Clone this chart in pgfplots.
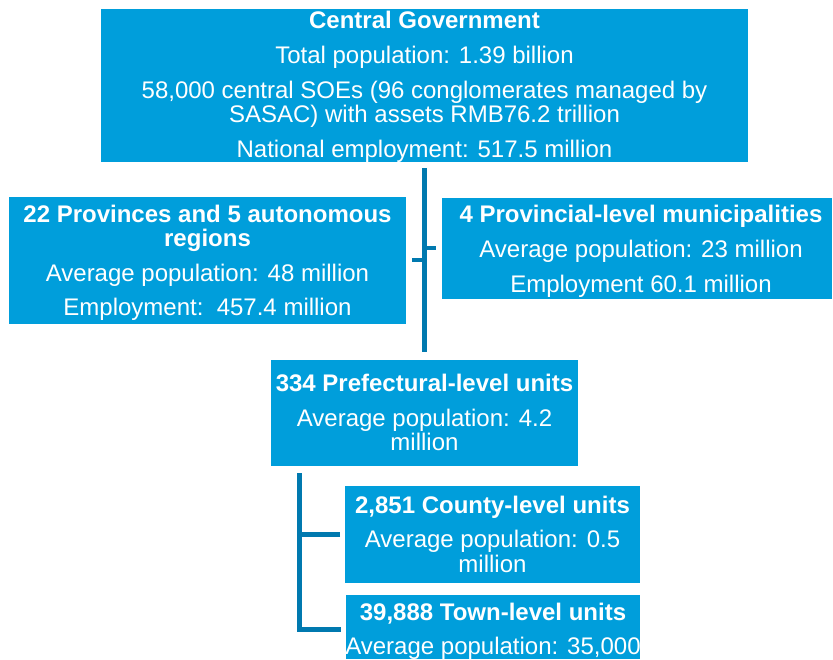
\documentclass[border=0pt]{standalone}
\usepackage{pgfplots}
\pgfplotsset{compat=1.18}
\usepackage{fontspec}
\setmainfont{Liberation Sans}
\definecolor{boxblue}{RGB}{0,158,219}
\definecolor{lineblue}{RGB}{0,121,175}
\tikzset{lbl/.style={text=white, anchor=base, inner sep=0pt, font=\fontsize{24}{26}\selectfont}}
\begin{document}
\begin{tikzpicture}
\begin{axis}[
  width=833pt, height=659pt, scale only axis,
  xmin=0, xmax=833, ymin=0, ymax=659, y dir=reverse,
  hide axis, clip=false,
]
% boxes
\addplot[fill=boxblue, draw=none] coordinates {(101,9) (748,9) (748,162) (101,162)} -- cycle;
\addplot[fill=boxblue, draw=none] coordinates {(9,197) (406,197) (406,324) (9,324)} -- cycle;
\addplot[fill=boxblue, draw=none] coordinates {(442,198) (832,198) (832,299) (442,299)} -- cycle;
\addplot[fill=boxblue, draw=none] coordinates {(271,360) (578,360) (578,466) (271,466)} -- cycle;
\addplot[fill=boxblue, draw=none] coordinates {(345,486) (640,486) (640,583) (345,583)} -- cycle;
\addplot[fill=boxblue, draw=none] coordinates {(346,595) (640,595) (640,659) (346,659)} -- cycle;
% connectors
\addplot[lineblue, line width=5pt] coordinates {(424,168) (424,352)};
\addplot[lineblue, line width=4pt] coordinates {(412,260) (424,260)};
\addplot[lineblue, line width=4pt] coordinates {(424,248) (436,248)};
\addplot[lineblue, line width=5pt, line join=miter] coordinates {(340,534) (299,534)};
\addplot[lineblue, line width=5pt, line join=miter] coordinates {(299,473) (299,629) (341,629)};
% texts box 1
\node[lbl] at (axis cs:424.5,28) {\bfseries Central Government};
\node[lbl] at (axis cs:424.5,63) {Total population: 1.39 billion};
\node[lbl] at (axis cs:424.5,98) {58,000 central SOEs (96 conglomerates managed by};
\node[lbl] at (axis cs:424.5,122) {SASAC) with assets RMB76.2 trillion};
\node[lbl] at (axis cs:424.5,157) {National employment: 517.5 million};
% box 2
\node[lbl] at (axis cs:207.5,222) {\bfseries 22 Provinces and 5 autonomous};
\node[lbl] at (axis cs:207.5,246) {\bfseries regions};
\node[lbl] at (axis cs:207.5,281) {Average population: 48 million};
\node[lbl] at (axis cs:207.5,315) {Employment:\ \ 457.4 million};
% box 3
\node[lbl] at (axis cs:641,222) {\bfseries 4 Provincial-level municipalities};
\node[lbl] at (axis cs:641,257) {Average population: 23 million};
\node[lbl] at (axis cs:641,292) {Employment 60.1 million};
% box 4
\node[lbl] at (axis cs:424.5,391) {\bfseries 334 Prefectural-level units};
\node[lbl] at (axis cs:424.5,426) {Average population: 4.2};
\node[lbl] at (axis cs:424.5,450) {million};
% box 5
\node[lbl] at (axis cs:492.5,513) {\bfseries 2,851 County-level units};
\node[lbl] at (axis cs:492.5,547) {Average population: 0.5};
\node[lbl] at (axis cs:492.5,572) {million};
% box 6
\node[lbl] at (axis cs:493,620) {\bfseries 39,888 Town-level units};
\node[lbl] at (axis cs:493,654) {Average population: 35,000};
\coordinate (sw) at (axis cs:0,659);
\coordinate (ne) at (axis cs:833,0);
\end{axis}
\pgfresetboundingbox
\path[use as bounding box] (sw) rectangle (ne);
\end{tikzpicture}
\end{document}
